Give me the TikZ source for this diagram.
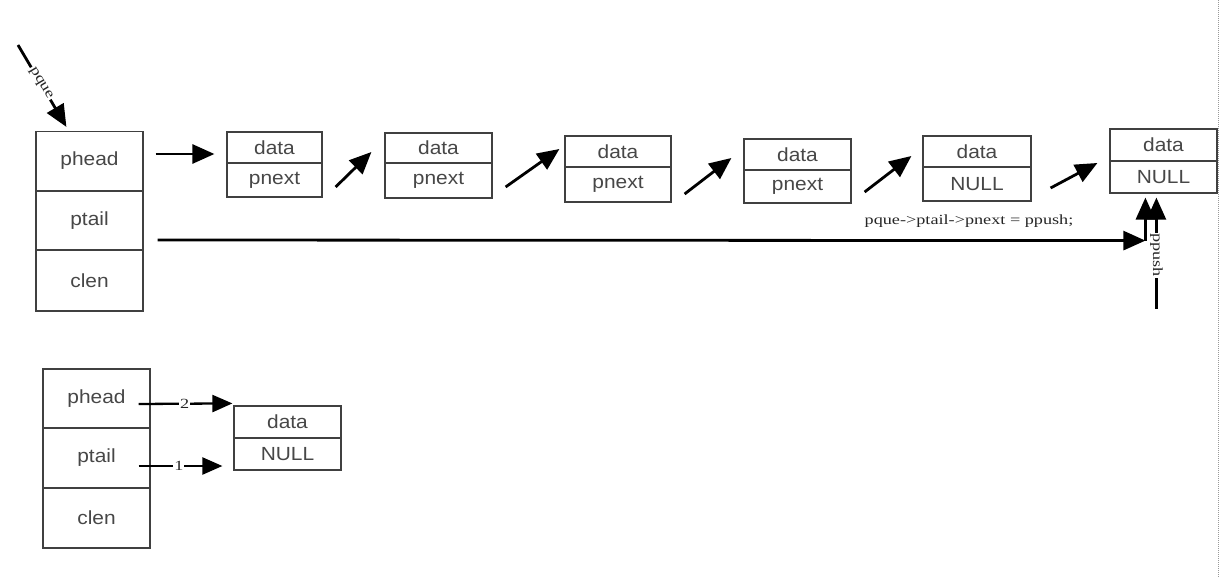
\documentclass[tikz,border=0pt]{standalone}
\usepackage{fontspec}
\setmainfont{Liberation Sans}[FakeStretch=1.1]
\newfontfamily\serifw{Liberation Serif}[FakeStretch=1.3]
\usetikzlibrary{arrows.meta,calc}
\begin{document}
\begin{tikzpicture}[x=1pt,y=-1pt,
  cell/.style={draw=black!75, line width=1.2pt, inner sep=0pt, text=black!72,
    font=\fontsize{19}{19}\selectfont, minimum width=#1},
  cell/.default=107pt,
  arr/.style={line width=2.8pt, -{Triangle[length=22pt,width=19pt]}},
  arrs/.style={line width=2.3pt, -{Triangle[length=20pt,width=17pt]}},
  lbl/.style={font=\serifw\fontsize{14}{14}\selectfont, fill=white, inner sep=1pt, text=black!85}]
\useasboundingbox (0,0) rectangle (1230,578);
\fill[white] (0,0) rectangle (1230,578);
% dotted page edge
\draw[black!40, line width=1pt, dash pattern=on 1pt off 1pt] (1218,0) -- (1218,578);
% top queue struct
\node[cell, minimum height=59pt] (phead) at (89.5,161) {phead};
\node[cell, minimum height=59pt] (ptail) at (89.5,220.5) {ptail};
\node[cell, minimum height=61pt] (clen) at (89.5,280.5) {clen};
% list nodes
\node[cell=95pt, minimum height=31pt] (n1d) at (274.5,147.5) {data};
\node[cell=95pt, minimum height=34pt] (n1p) at (274.5,180) {pnext};
\node[cell, minimum height=30pt] (n2d) at (438.5,148) {data};
\node[cell, minimum height=35pt] (n2p) at (438.5,180.5) {pnext};
\node[cell=106pt, minimum height=31pt] (n3d) at (618,151.5) {data};
\node[cell=106pt, minimum height=35pt] (n3p) at (618,184.5) {pnext};
\node[cell, minimum height=31pt] (n4d) at (797.5,154.5) {data};
\node[cell, minimum height=33pt] (n4p) at (797.5,186.5) {pnext};
\node[cell=108pt, minimum height=31pt] (n5d) at (977,151.5) {data};
\node[cell=108pt, minimum height=34pt] (n5n) at (977,184) {NULL};
\node[cell, minimum height=32pt] (n6d) at (1163.5,145) {data};
\node[cell, minimum height=32pt] (n6n) at (1163.5,177) {NULL};
% arrows
\coordinate (pq) at (18,45);
\draw[arr] (pq) -- node[lbl, sloped, pos=0.47] {pque} ($(phead.north west)+(31,-4)$);
\draw[arr] ($(phead.east)+(12,-7)$) -- ($(n1d.west)+(-12,6.5)$);
\draw[arr] ($(n1p.east)+(13,7)$) -- ($(n2d.west)+(-13,4)$);
\draw[arr] ($(n2p.east)+(13,6.5)$) -- ($(n3d.west)+(-5,-2.5)$);
\draw[arr] ($(n3p.east)+(13,9.5)$) -- ($(n4d.west)+(-12,3.5)$);
\draw[arr] ($(n4p.east)+(13,5.5)$) -- ($(n5d.west)+(-11,4.5)$);
\draw[arr] ($(n5n.east)+(19,4)$) -- ($(n6n.west)+(-12,-14)$);
\coordinate (pj) at ($(n6n.south west)+(36,47)$);
\draw[arr] ($(ptail.east)+(14,19.5)$) -- (pj);
\draw[arr] (pj) -- ($(n6n.south west)+(36,4)$);
\coordinate (pp) at ($(n6n.south west)+(47,115)$);
\draw[arr] (pp) -- node[lbl, rotate=-90, pos=0.48] {ppush} ($(n6n.south west)+(47,4)$);
\node[lbl, fill=none] (code) at (969,221) {pque->ptail->pnext = ppush;};
% bottom queue struct
\node[cell, minimum height=59pt] (bphead) at (96.5,398.5) {phead};
\node[cell, minimum height=60pt] (bptail) at (96.5,458) {ptail};
\node[cell, minimum height=60pt] (bclen) at (96.5,518) {clen};
\node[cell, minimum height=32pt] (bnd) at (287.5,422) {data};
\node[cell, minimum height=32pt] (bnn) at (287.5,454) {NULL};
\draw[arrs] ($(bphead.east)+(-12,5.5)$) -- node[lbl, pos=0.49] {2} ($(bnd.north west)+(-1,-2)$);
\draw[arrs] ($(bptail.east)+(-12,8)$) -- node[lbl, pos=0.48] {1} ($(bnn.west)+(-11,12)$);
\end{tikzpicture}
\end{document}
